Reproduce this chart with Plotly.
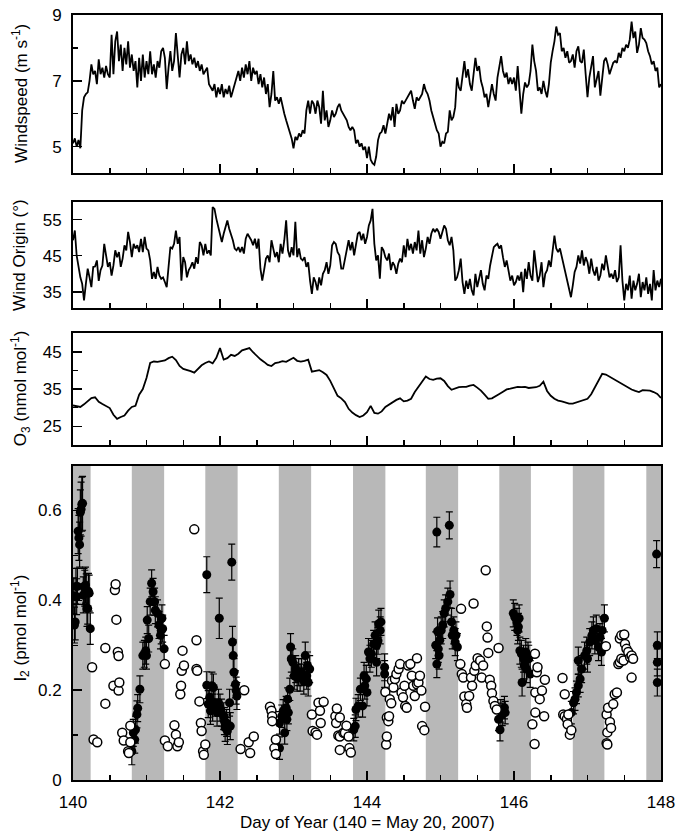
import numpy as np
import plotly.graph_objects as go

# ---------------- data ----------------
# Windspeed (m s-1), sampled every 0.025 day from day 140.0
windspeed = [
    5.1, 5.25, 5.0, 5.2, 4.95, 6.1, 6.5, 6.6, 6.65, 7.0, 7.5, 7.2, 7.3, 6.9, 7.65, 7.2,
    7.4, 7.1, 7.45, 7.2, 7.1, 8.4, 7.2, 8.2, 8.5, 7.6, 8.1, 7.3, 8.0, 7.5, 8.2, 7.4,
    7.8, 7.3, 7.6, 6.8, 7.7, 7.0, 7.8, 7.1, 7.6, 7.2, 7.9, 7.2, 7.5, 7.1, 7.6, 7.4,
    7.9, 8.0, 7.7, 6.75, 7.4, 7.9, 7.3, 7.6, 8.45, 7.6, 7.1, 7.8, 8.0, 7.5, 8.2, 7.6,
    7.8, 7.5, 7.7, 7.4, 7.6, 7.3, 7.5, 7.2, 7.3, 7.4, 6.9, 6.8, 6.7, 6.9, 6.5, 6.8,
    6.6, 6.9, 6.5, 6.75, 6.6, 6.85, 6.5, 6.7, 6.9, 7.1, 7.3, 7.0, 7.4, 7.1, 7.5, 7.2,
    7.6, 7.0, 7.4, 7.2, 7.3, 6.9, 7.2, 6.8, 7.1, 6.6, 6.9, 6.2, 6.6, 7.3, 6.4, 6.5,
    6.3, 6.5, 6.2, 6.0, 5.8, 5.6, 5.4, 5.25, 4.95, 5.3, 5.2, 5.4, 5.3, 5.5, 5.4, 6.1,
    6.4, 6.0, 6.4, 6.3, 6.0, 6.4, 6.2, 5.7, 6.7, 5.8, 6.1, 5.6, 5.8, 6.1, 5.9, 6.0,
    6.2, 6.3, 6.1, 6.0, 5.9, 5.8, 5.6, 5.5, 5.6, 5.5, 5.1, 5.2, 5.0, 5.1, 4.9, 5.0,
    4.65, 5.0, 4.6, 4.5, 4.45, 4.7, 5.2, 5.4, 5.45, 5.65, 5.4, 5.7, 6.0, 5.8, 6.2, 5.6,
    6.3, 6.0, 6.1, 6.4, 6.3, 6.4, 6.5, 6.6, 6.7, 6.4, 6.15, 6.5, 6.4, 6.5, 6.6, 6.9,
    6.7, 6.6, 6.4, 6.1, 5.9, 5.65, 5.5, 5.4, 5.0, 5.15, 5.1, 5.4, 5.45, 6.1, 5.8, 5.9,
    6.2, 7.1, 6.8, 6.7, 7.2, 7.6, 7.1, 7.35, 6.9, 6.7, 7.2, 7.7, 7.3, 7.45, 7.0, 6.8,
    6.5, 6.6, 6.2, 6.5, 6.9, 6.6, 6.4, 7.1, 7.4, 7.75, 7.3, 7.1, 7.25, 6.9, 7.1, 6.9,
    7.1, 6.7, 7.45, 6.8, 6.0, 6.6, 6.95, 6.8, 6.9, 7.3, 8.1, 7.6, 7.3, 6.7, 6.8, 6.6,
    7.0, 6.7, 6.5, 6.9, 7.55, 7.9, 8.2, 8.65, 8.4, 8.45, 7.9, 8.0, 7.7, 7.9, 7.55, 7.6,
    7.8, 7.4, 7.9, 8.05, 7.6, 7.55, 7.95, 7.2, 6.5, 7.1, 7.4, 7.75, 6.8, 7.1, 7.3, 6.55,
    7.1, 7.6, 7.7, 7.5, 7.2, 7.4, 7.55, 7.6, 7.55, 7.85, 7.7, 8.0, 7.9, 8.1, 8.0, 8.25,
    8.8, 8.3, 8.5, 7.85, 8.1, 8.6, 8.3, 8.25, 8.15, 7.9, 7.75, 7.5, 7.6, 7.3, 7.4, 6.8,
    6.9,
]

# Wind origin (degrees), sampled every 0.025 day from day 140.0
wind_origin = [
    49.3, 52, 45, 41.9, 39, 37.2, 32.6, 37.2, 41.4, 39, 36.3, 41.9, 42, 43.7, 38, 41,
    42.3, 48.3, 44.6, 41.9, 43.2, 39.5, 42.3, 46.5, 44.6, 46, 41.9, 44.2, 47.9, 46.5, 51.6, 48.8,
    44.6, 48.3, 47, 47.9, 46, 49.7, 46, 50.2, 47, 46.5, 43.7, 38.6, 40.5, 38.6, 41.9, 39.5,
    38.6, 39, 37.7, 36.3, 41.9, 47.4, 47, 48.3, 52, 48.3, 50.2, 38.1, 44.6, 43.2, 39, 41,
    41.9, 43.2, 41.4, 44.6, 42.8, 48.8, 47.9, 45.1, 48.3, 45.6, 46.5, 45.1, 58.5, 58, 55.3, 53,
    51.6, 48.8, 51.1, 53.4, 54.8, 52.5, 51.1, 49.3, 47, 46.5, 47.4, 46, 47.4, 45.6, 49.7, 51.1,
    50.2, 49.3, 47.9, 49.7, 47, 49.7, 41.4, 38.1, 41, 44.2, 45.1, 43.2, 49.3, 47, 44.6, 46,
    43.2, 48.3, 45.6, 49.3, 54.8, 46.5, 44.6, 47.4, 45.1, 54.4, 44.6, 47, 44.2, 43.7, 44.6, 41.9,
    43.2, 38.1, 34.4, 39, 37.7, 35.4, 39, 36.8, 40, 41, 43.2, 40, 42.3, 47.9, 48.8, 48.3,
    46, 45.1, 41.4, 41.4, 44.2, 46.5, 49.3, 46.5, 48.8, 45.1, 48.3, 51.1, 51.6, 49.3, 51.1, 48.3,
    50.2, 53.4, 54.8, 58, 48.3, 43.7, 45.1, 38.6, 47.4, 46.5, 44.6, 43.7, 45.6, 41, 43.2, 42.3,
    40, 42.8, 44.2, 43.2, 47.9, 44.6, 49.7, 46.5, 48.3, 45.6, 48.8, 46.5, 52, 45.6, 49.3, 44.6,
    47, 50.2, 48.3, 51.1, 52.5, 51.6, 52.5, 51.6, 49.7, 52, 53.4, 52.5, 49.3, 47.9, 50.2, 46.5,
    38.1, 39, 41, 44.2, 37.7, 34.4, 38.1, 35.8, 38.6, 35.4, 34, 40, 36.3, 38.6, 41, 37.2,
    35.4, 39.5, 38.6, 42.3, 45.1, 47.4, 47.9, 48.3, 47, 47.9, 44.6, 41.9, 43.7, 40.5, 38.1, 39.5,
    36.8, 37.7, 39.5, 38.1, 40.5, 34.9, 41.4, 38.6, 43.2, 39.5, 38.1, 46.5, 41, 37.7, 39.5, 43.2,
    36.3, 40, 41, 43.7, 41.9, 47, 50.6, 47, 46, 47, 44.6, 42.8, 40.5, 38.1, 35.4, 33.5,
    36.8, 40.5, 41.9, 45.1, 42.8, 46.5, 42.3, 44.6, 43.2, 40, 44.2, 41, 39.5, 41.9, 38.1, 39.5,
    42.8, 41, 45.1, 41.9, 39, 40, 38.6, 41, 37.7, 39, 47.9, 38.1, 32.6, 37.2, 35.4, 39.5,
    33.1, 38.1, 35.4, 37.2, 40, 33.5, 37.7, 35.4, 39, 34.4, 37.2, 32.6, 41, 35.4, 38.1, 36.3,
    38.6,
]

# O3 (nmol mol-1), sampled every 0.05 day from day 140.0
ozone = [
    30.6, 30.4, 30.2, 30.9, 31.7, 32.6, 32.8, 31.6, 31.0, 30.5,
    29.9, 28.1, 27.0, 27.5, 27.9, 29.2, 30.2, 30.5, 33.5, 35.0,
    38.0, 42.0, 42.4, 42.3, 42.6, 42.7, 43.3, 43.7, 42.8, 41.2,
    40.4, 40.2, 39.8, 39.4, 40.4, 41.4, 42.0, 42.4, 41.9, 43.4,
    46.0, 42.9, 43.3, 44.2, 43.9, 44.5, 45.4, 45.6, 46.0, 44.9,
    43.8, 43.0, 42.3, 41.5, 41.2, 42.0, 42.2, 42.5, 42.3, 42.8,
    43.4, 42.6, 42.4, 42.6, 42.9, 39.7, 39.8, 40.1, 39.5, 38.8,
    37.2, 35.0, 33.2, 32.5, 31.5, 29.7, 28.7, 28.0, 27.5, 27.9,
    28.8, 30.5, 28.6, 28.4, 29.0, 30.2, 30.9, 31.6, 32.1, 32.5,
    31.7, 31.9, 32.4, 34.2, 35.6, 37.3, 38.4, 37.7, 37.5, 37.8,
    37.9, 37.2, 35.8, 34.8, 35.2, 35.5, 35.6, 35.6, 35.9, 36.1,
    35.4, 34.6, 33.5, 32.4, 32.5, 33.0, 33.7, 34.3, 34.9, 35.1,
    35.3, 35.6, 35.5, 35.6, 35.3, 35.3, 35.5, 35.9, 37.0, 34.5,
    33.2, 32.4, 31.9, 31.7, 31.4, 31.1, 31.1, 31.4, 31.7, 32.0,
    32.4, 33.6, 35.5, 37.5, 39.1, 38.9, 38.3, 37.9, 37.2, 36.6,
    35.9, 35.3, 34.9, 34.5, 34.2, 34.7, 34.7, 34.6, 34.2, 33.7,
    32.6,
]

# I2 night-time (filled, with error bars)
i2_night_day = [
    140.01, 140.02, 140.03, 140.04, 140.05, 140.06, 140.07, 140.08, 140.09, 140.10, 140.11, 140.12,
    140.13, 140.14, 140.15, 140.16, 140.17, 140.18, 140.19, 140.20, 140.21, 140.22, 140.235,
    140.80, 140.82, 140.84, 140.85, 140.87, 140.88, 140.91, 140.95, 140.97, 140.99, 141.00, 141.01,
    141.03, 141.05, 141.07, 141.09, 141.11, 141.12, 141.15, 141.17, 141.19, 141.20, 141.21, 141.22, 141.24,
    141.82, 141.82, 141.84, 141.86, 141.87, 141.89, 141.90, 141.91, 141.93, 141.96, 141.98, 141.99,
    142.00, 142.02, 142.05, 142.06, 142.07, 142.09, 142.10, 142.13, 142.14, 142.16, 142.17, 142.18,
    142.19, 142.21, 142.22, 142.23,
    142.81, 142.81, 142.84, 142.86, 142.88, 142.90, 142.91, 142.92, 142.93, 142.95, 142.96, 142.97,
    142.99, 143.01, 143.03, 143.05, 143.07, 143.09, 143.11, 143.14, 143.16, 143.18, 143.19, 143.20, 143.22,
    143.82, 143.84, 143.85, 143.88, 143.91, 143.94, 143.96, 143.97, 143.99, 144.00, 144.02, 144.04,
    144.06, 144.09, 144.11, 144.13, 144.13, 144.15, 144.16, 144.18, 144.19, 144.24, 144.24,
    144.935, 144.95, 144.95, 144.96, 144.97, 144.98, 144.99, 145.01, 145.03, 145.05, 145.07, 145.10,
    145.12, 145.13, 145.15, 145.16, 145.18, 145.20, 145.21, 145.23,
    145.79, 145.81, 145.82, 145.84, 145.87, 145.88, 145.99, 146.01, 146.04, 146.05, 146.06, 146.07,
    146.08, 146.10, 146.11, 146.13, 146.14, 146.16, 146.17, 146.19, 146.20, 146.22,
    146.78, 146.81, 146.83, 146.85, 146.875, 146.875, 146.90, 146.92, 146.96, 146.99, 147.00, 147.03,
    147.06, 147.08, 147.10, 147.12, 147.15, 147.17, 147.19, 147.20, 147.23,
    147.94, 147.95, 147.95, 147.95,
]
i2_night_val = [
    0.41, 0.345, 0.352, 0.431, 0.408, 0.431, 0.554, 0.539, 0.524, 0.596, 0.603, 0.614,
    0.616, 0.412, 0.431, 0.427, 0.434, 0.419, 0.382, 0.382, 0.420, 0.416, 0.337,
    0.064, 0.105, 0.090, 0.112, 0.146, 0.160, 0.202, 0.277, 0.281, 0.288, 0.277, 0.356,
    0.315, 0.397, 0.438, 0.419, 0.397, 0.378, 0.371, 0.345, 0.322, 0.333, 0.360, 0.337, 0.292,
    0.457, 0.211, 0.169, 0.184, 0.154, 0.210, 0.161, 0.206, 0.172, 0.150, 0.172, 0.360,
    0.161, 0.150, 0.142, 0.131, 0.116, 0.127, 0.109, 0.172, 0.120, 0.485, 0.307, 0.277,
    0.240, 0.213, 0.199, 0.187,
    0.127, 0.071, 0.142, 0.154, 0.105, 0.161, 0.135, 0.180, 0.150, 0.202, 0.296, 0.270,
    0.262, 0.232, 0.247, 0.228, 0.240, 0.228, 0.240, 0.221, 0.277, 0.232, 0.255, 0.217, 0.247,
    0.112, 0.120, 0.157, 0.165, 0.202, 0.165, 0.232, 0.210, 0.225, 0.195, 0.285, 0.270,
    0.281, 0.303, 0.322, 0.300, 0.262, 0.310, 0.348, 0.333, 0.352, 0.251, 0.236,
    0.300, 0.258, 0.552, 0.331, 0.292, 0.277, 0.311, 0.333, 0.345, 0.371, 0.382, 0.397,
    0.567, 0.413, 0.352, 0.322, 0.333, 0.307, 0.322, 0.296,
    0.135, 0.112, 0.154, 0.146, 0.161, 0.150, 0.371, 0.363, 0.352, 0.333, 0.341, 0.360,
    0.288, 0.281, 0.217, 0.270, 0.255, 0.285, 0.247, 0.277, 0.270, 0.236,
    0.150, 0.172, 0.180, 0.195, 0.210, 0.266, 0.225, 0.247, 0.277, 0.288, 0.270, 0.307,
    0.322, 0.333, 0.311, 0.337, 0.296, 0.318, 0.285, 0.333, 0.360,
    0.503, 0.300, 0.262, 0.217,
]
i2_night_err = [
    0.04, 0.04, 0.04, 0.04, 0.04, 0.04, 0.05, 0.05, 0.05, 0.05, 0.06, 0.06,
    0.06, 0.04, 0.04, 0.04, 0.04, 0.04, 0.04, 0.035, 0.04, 0.04, 0.035,
    0.03, 0.03, 0.03, 0.03, 0.03, 0.03, 0.03, 0.03, 0.03, 0.03, 0.03, 0.03,
    0.03, 0.03, 0.03, 0.03, 0.03, 0.03, 0.03, 0.03, 0.03, 0.03, 0.03, 0.03, 0.03,
    0.04, 0.03, 0.03, 0.03, 0.03, 0.03, 0.03, 0.03, 0.03, 0.03, 0.03, 0.045,
    0.03, 0.03, 0.03, 0.03, 0.03, 0.03, 0.03, 0.03, 0.03, 0.04, 0.035, 0.035,
    0.03, 0.03, 0.03, 0.03,
    0.025, 0.025, 0.025, 0.025, 0.025, 0.025, 0.025, 0.025, 0.025, 0.025, 0.03, 0.03,
    0.03, 0.03, 0.03, 0.03, 0.03, 0.03, 0.03, 0.03, 0.03, 0.03, 0.03, 0.03, 0.03,
    0.025, 0.025, 0.025, 0.025, 0.025, 0.025, 0.03, 0.03, 0.03, 0.03, 0.03, 0.03,
    0.03, 0.03, 0.03, 0.03, 0.03, 0.03, 0.03, 0.03, 0.03, 0.03, 0.03,
    0.03, 0.03, 0.033, 0.03, 0.03, 0.03, 0.03, 0.03, 0.03, 0.03, 0.03, 0.03,
    0.03, 0.03, 0.03, 0.03, 0.03, 0.03, 0.03, 0.03,
    0.025, 0.025, 0.025, 0.025, 0.025, 0.025, 0.03, 0.03, 0.03, 0.03, 0.03, 0.03,
    0.03, 0.03, 0.03, 0.03, 0.03, 0.03, 0.03, 0.03, 0.03, 0.03,
    0.025, 0.025, 0.025, 0.025, 0.025, 0.03, 0.03, 0.03, 0.03, 0.03, 0.03, 0.03,
    0.03, 0.03, 0.03, 0.03, 0.03, 0.03, 0.03, 0.03, 0.03,
    0.03, 0.03, 0.03, 0.03,
]

# I2 daytime (open circles)
i2_day_day = [
    140.26, 140.28, 140.33, 140.44, 140.44, 140.55, 140.57, 140.58, 140.59, 140.61, 140.62, 140.62,
    140.63, 140.67, 140.69, 140.75, 140.76, 140.78, 140.78,
    141.25, 141.25, 141.29, 141.38, 141.40, 141.42, 141.44, 141.46, 141.47, 141.48, 141.49, 141.51,
    141.65, 141.68, 141.68, 141.69, 141.72, 141.74, 141.75, 141.77, 141.78, 141.80,
    142.28, 142.33, 142.39, 142.41, 142.46, 142.68, 142.70, 142.71, 142.71, 142.74, 142.76, 142.76,
    143.25, 143.26, 143.30, 143.32, 143.34, 143.36, 143.37, 143.41, 143.57, 143.58, 143.59, 143.61,
    143.63, 143.63, 143.63, 143.68, 143.70, 143.72, 143.75, 143.76, 143.78,
    144.25, 144.26, 144.27, 144.27, 144.29, 144.30, 144.31, 144.33, 144.34, 144.36, 144.38, 144.40,
    144.43, 144.45, 144.47, 144.49, 144.51, 144.52, 144.54, 144.56, 144.59, 144.61, 144.63, 144.65,
    144.68, 144.68, 144.70, 144.72, 144.74, 144.75, 144.78, 144.79,
    145.27, 145.28, 145.29, 145.31, 145.325, 145.35, 145.36, 145.39, 145.415, 145.43, 145.45, 145.46,
    145.48, 145.505, 145.54, 145.56, 145.58, 145.615, 145.63, 145.64, 145.65, 145.67, 145.69, 145.70,
    145.72, 145.74, 145.765, 145.79,
    146.25, 146.28, 146.285, 146.29, 146.29, 146.31, 146.32, 146.35, 146.38, 146.41, 146.42,
    146.66, 146.67, 146.69, 146.69, 146.72, 146.73, 146.74, 146.76, 146.78,
    147.25, 147.26, 147.26, 147.27, 147.27, 147.28, 147.305, 147.32, 147.35, 147.37, 147.40, 147.42,
    147.44, 147.44, 147.46, 147.46, 147.49, 147.50, 147.51, 147.53, 147.555, 147.58, 147.60, 147.60,
    147.62,
]
i2_day_val = [
    0.251, 0.090, 0.084, 0.294, 0.170, 0.210, 0.423, 0.436, 0.357, 0.285, 0.276, 0.199,
    0.217, 0.105, 0.088, 0.064, 0.060, 0.121, 0.084,
    0.258, 0.088, 0.075, 0.122, 0.101, 0.075, 0.084, 0.191, 0.210, 0.243, 0.288, 0.255,
    0.558, 0.311, 0.247, 0.243, 0.175, 0.127, 0.109, 0.064, 0.056, 0.079,
    0.069, 0.200, 0.084, 0.060, 0.097, 0.163, 0.154, 0.142, 0.131, 0.071, 0.090, 0.058,
    0.146, 0.109, 0.106, 0.101, 0.172, 0.154, 0.127, 0.174, 0.142, 0.127, 0.159, 0.099,
    0.139, 0.097, 0.067, 0.105, 0.105, 0.121, 0.097, 0.071, 0.061,
    0.196, 0.079, 0.139, 0.097, 0.131, 0.142, 0.180, 0.171, 0.221, 0.206, 0.225, 0.236,
    0.247, 0.258, 0.195, 0.184, 0.210, 0.165, 0.161, 0.255, 0.258, 0.232, 0.210, 0.187,
    0.271, 0.213, 0.217, 0.232, 0.199, 0.120, 0.111, 0.163,
    0.258, 0.381, 0.236, 0.228, 0.186, 0.169, 0.161, 0.187, 0.228, 0.210, 0.393, 0.243,
    0.255, 0.271, 0.266, 0.228, 0.255, 0.467, 0.342, 0.317, 0.283, 0.223, 0.210, 0.193,
    0.176, 0.165, 0.157, 0.294,
    0.124, 0.080, 0.281, 0.195, 0.150, 0.240, 0.251, 0.180, 0.199, 0.142, 0.223,
    0.227, 0.146, 0.191, 0.142, 0.136, 0.124, 0.146, 0.101, 0.111,
    0.298, 0.146, 0.082, 0.106, 0.079, 0.161, 0.129, 0.116, 0.169, 0.191, 0.195, 0.258,
    0.262, 0.315, 0.270, 0.322, 0.266, 0.324, 0.303, 0.292, 0.285, 0.273, 0.277, 0.228,
    0.270,
]

# Night-time shading (day of year)
night_start = [139.80, 140.80, 141.80, 142.80, 143.81, 144.80, 145.80, 146.80, 147.80]
night_end = [140.24, 141.24, 142.24, 143.24, 144.25, 145.24, 146.23, 147.23, 148.24]

x_ticks = [140, 142, 144, 146, 148]
x_title = "Day of Year (140 = May 20, 2007)"

# ---------------- figure ----------------
ws_time = np.round(140 + 0.025 * np.arange(len(windspeed)), 4)
wo_time = np.round(140 + 0.025 * np.arange(len(wind_origin)), 4)
o3_time = np.round(140 + 0.05 * np.arange(len(ozone)), 4)

FONT = "Liberation Sans, Arial, Helvetica, sans-serif"
line_style = dict(color="black", width=1.8)

fig = go.Figure()
fig.add_trace(go.Scatter(x=ws_time, y=windspeed, mode="lines", line=line_style,
                         xaxis="x", yaxis="y", showlegend=False))
fig.add_trace(go.Scatter(x=wo_time, y=wind_origin, mode="lines", line=line_style,
                         xaxis="x2", yaxis="y2", showlegend=False))
fig.add_trace(go.Scatter(x=o3_time, y=ozone, mode="lines", line=line_style,
                         xaxis="x3", yaxis="y3", showlegend=False))
fig.add_trace(go.Scatter(x=i2_night_day, y=i2_night_val, mode="markers",
                         marker=dict(size=9, color="black"),
                         error_y=dict(type="data", array=i2_night_err, visible=True,
                                      color="black", thickness=1.2, width=3.5),
                         xaxis="x4", yaxis="y4", showlegend=False))
fig.add_trace(go.Scatter(x=i2_day_day, y=i2_day_val, mode="markers",
                         marker=dict(size=9, color="white", line=dict(color="black", width=1.5)),
                         xaxis="x4", yaxis="y4", showlegend=False))

def xax(anchor, labels=False):
    return dict(range=[140, 148], anchor=anchor, showline=True, linewidth=2, linecolor="black",
                mirror=True, ticks="inside", ticklen=9, tickwidth=1.5, tickcolor="black",
                tickvals=x_ticks, showticklabels=labels, showgrid=False, zeroline=False,
                ticklabelstandoff=6, automargin=False,
                minor=dict(dtick=0.5, tick0=140, ticks="inside", ticklen=5, tickwidth=1.5,
                           tickcolor="black", showgrid=False),
                tickfont=dict(size=17, family=FONT, color="black"))

def yax(rng, dom, tv, ttext, minor_vals, anchor):
    return dict(range=rng, domain=dom, anchor=anchor, showline=True, linewidth=2, linecolor="black",
                mirror=True, ticks="inside", ticklen=9, tickwidth=1.5, tickcolor="black",
                tickmode="array", tickvals=tv, ticktext=ttext, showgrid=False, zeroline=False,
                ticklabelstandoff=6, automargin=False,
                minor=dict(tickmode="array", tickvals=minor_vals, ticks="inside", ticklen=5,
                           tickwidth=1.5, tickcolor="black", showgrid=False),
                tickfont=dict(size=17, family=FONT, color="black"))

d1 = [0.7935, 1.0]
d2 = [0.617, 0.756]
d3 = [0.438, 0.584]
d4 = [0.0, 0.411]

ya1 = yax([4.2, 9.0], d1, [5, 7, 9], ["5", "7", "9"], [6, 8], "x")
ya2 = yax([30.5, 60], d2, [35, 45, 55], ["35", "45", "55"], [], "x2")
ya3 = yax([20, 50], d3, [25, 35, 45], ["25", "35", "45"], [30, 40], "x3")
ya4 = yax([0, 0.7], d4, [0, 0.2, 0.4, 0.6], ["0", "0.2", "0.4", "0.6"], [0.1, 0.3, 0.5], "x4")

shapes = []
for s, e in zip(night_start, night_end):
    shapes.append(dict(type="rect", xref="x4", yref="y4 domain",
                       x0=max(s, 140), x1=min(e, 148), y0=0, y1=1,
                       fillcolor="#b8b8b8", line=dict(width=0), layer="below"))

title_x = -0.09
annotations = [
    dict(text="Windspeed (m s<sup>-1</sup>)", x=title_x, y=0.897),
    dict(text="Wind Origin (°)", x=title_x, y=0.6865),
    dict(text="O<sub>3</sub> (nmol mol<sup>-1</sup>)", x=title_x, y=0.511),
    dict(text="I<sub>2</sub> (pmol mol<sup>-1</sup>)", x=title_x, y=0.198),
]
for a in annotations:
    a.update(xref="paper", yref="paper", textangle=-90, showarrow=False,
             xanchor="center", yanchor="middle",
             font=dict(size=17, family=FONT, color="black"))
annotations.append(dict(text=x_title, xref="paper", yref="paper", x=0.5, y=-0.055,
                        showarrow=False, xanchor="center", yanchor="middle",
                        font=dict(size=17, family=FONT, color="black")))

fig.update_layout(
    template="none",
    width=676, height=831,
    margin=dict(l=73, r=15, t=15, b=51, autoexpand=False),
    paper_bgcolor="white", plot_bgcolor="white",
    font=dict(family=FONT, size=17, color="black"),
    xaxis=xax("y"), xaxis2=xax("y2"), xaxis3=xax("y3"), xaxis4=xax("y4", labels=True),
    yaxis=ya1, yaxis2=ya2, yaxis3=ya3, yaxis4=ya4,
    shapes=shapes, annotations=annotations,
    showlegend=False,
)

fig.write_html(
    "out.html",
    config={"displayModeBar": False, "staticPlot": True},
    post_script="document.body.style.margin='0px';document.body.style.padding='0px';"
                "document.body.style.overflow='hidden';",
)
